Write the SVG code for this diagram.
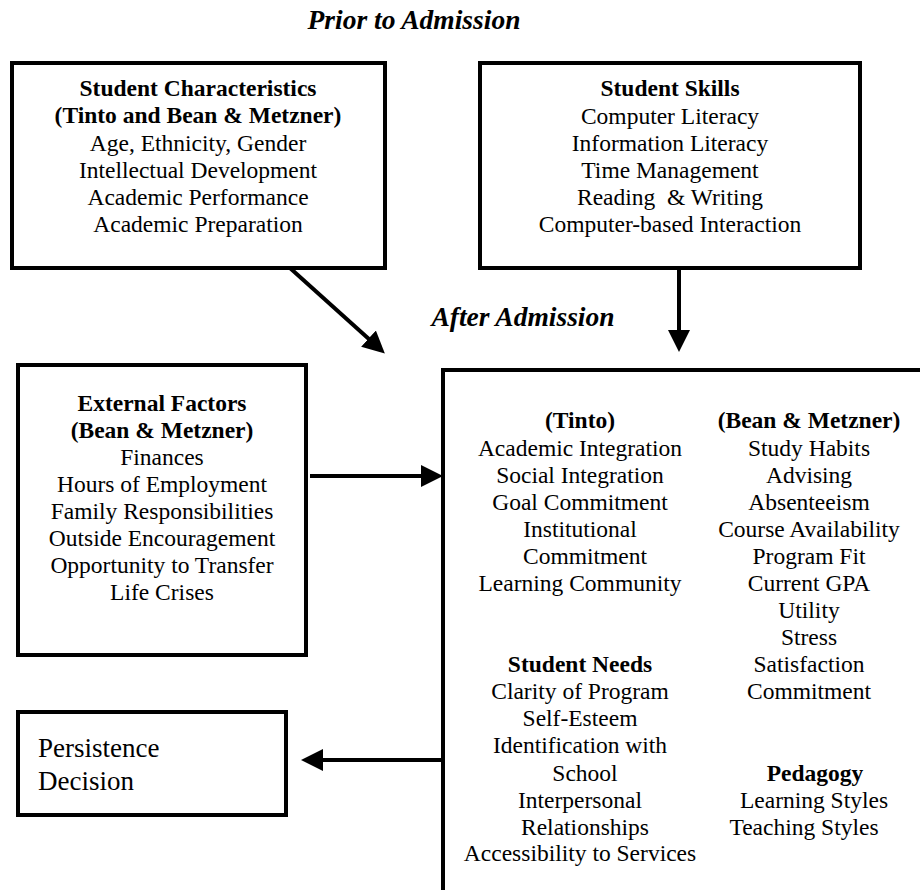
<svg xmlns="http://www.w3.org/2000/svg" width="920" height="890" viewBox="0 0 920 890">
<style>
.box{fill:#fff;stroke:#000;stroke-width:4}
text{font-family:"Liberation Serif","Times New Roman",serif;font-size:23.5px;fill:#000;text-anchor:middle}
.b{font-weight:bold}
.h{font-weight:bold;font-style:italic;font-size:27.5px}
.conn{stroke:#000;stroke-width:4;fill:none}
</style>
<defs>
<marker id="ah" viewBox="-2 -11 22 22" refX="0" refY="0" markerWidth="22" markerHeight="22" markerUnits="userSpaceOnUse" orient="auto">
<path d="M-2,-11 L20,0 L-2,11 z" fill="#000"/>
</marker>
</defs>
<text class="h" x="414" y="29">Prior to Admission</text>
<text class="h" x="523" y="326">After Admission</text>

<g id="student-characteristics">
<rect class="box" x="12" y="63" width="373" height="205"/>
<text class="b" x="198" y="96">Student Characteristics</text>
<text class="b" x="198" y="123">(Tinto and Bean &amp; Metzner)</text>
<text x="198" y="151">Age, Ethnicity, Gender</text>
<text x="198" y="178">Intellectual Development</text>
<text x="198" y="205">Academic Performance</text>
<text x="198" y="232">Academic Preparation</text>
</g>

<g id="student-skills">
<rect class="box" x="480" y="63" width="380" height="205"/>
<text class="b" x="670" y="96">Student Skills</text>
<text x="670" y="124">Computer Literacy</text>
<text x="670" y="151">Information Literacy</text>
<text x="670" y="178">Time Management</text>
<text x="670" y="205" xml:space="preserve">Reading  &amp; Writing</text>
<text x="670" y="232">Computer-based Interaction</text>
</g>

<g id="external-factors">
<rect class="box" x="18" y="365" width="288" height="290"/>
<text class="b" x="162" y="411">External Factors</text>
<text class="b" x="162" y="438">(Bean &amp; Metzner)</text>
<text x="162" y="465">Finances</text>
<text x="162" y="492">Hours of Employment</text>
<text x="162" y="519">Family Responsibilities</text>
<text x="162" y="546">Outside Encouragement</text>
<text x="162" y="573">Opportunity to Transfer</text>
<text x="162" y="600">Life Crises</text>
</g>

<g id="after-admission-factors">
<rect class="box" x="443" y="370" width="500" height="540"/>
<text class="b" x="580" y="428">(Tinto)</text>
<text x="580" y="456">Academic Integration</text>
<text x="580" y="483">Social Integration</text>
<text x="580" y="510">Goal Commitment</text>
<text x="580" y="537">Institutional</text>
<text x="585" y="564">Commitment</text>
<text x="580" y="591">Learning Community</text>
<text class="b" x="580" y="672">Student Needs</text>
<text x="580" y="699">Clarity of Program</text>
<text x="580" y="726">Self-Esteem</text>
<text x="580" y="753">Identification with</text>
<text x="585" y="781">School</text>
<text x="580" y="808">Interpersonal</text>
<text x="585" y="835">Relationships</text>
<text x="580" y="861">Accessibility to Services</text>
<text class="b" x="809" y="428">(Bean &amp; Metzner)</text>
<text x="809" y="456">Study Habits</text>
<text x="809" y="483">Advising</text>
<text x="809" y="510">Absenteeism</text>
<text x="809" y="537">Course Availability</text>
<text x="809" y="564">Program Fit</text>
<text x="809" y="591">Current GPA</text>
<text x="809" y="618">Utility</text>
<text x="809" y="645">Stress</text>
<text x="809" y="672">Satisfaction</text>
<text x="809" y="699">Commitment</text>
<text class="b" x="815" y="781">Pedagogy</text>
<text x="814" y="808">Learning Styles</text>
<text x="804" y="835">Teaching Styles</text>
</g>

<g id="persistence-decision">
<rect class="box" x="18" y="712" width="268" height="103"/>
<text x="38" y="757" style="text-anchor:start;font-size:27px">Persistence</text>
<text x="38" y="790" style="text-anchor:start;font-size:27px">Decision</text>
</g>

<g id="connectors">
<line class="conn" x1="290" y1="268" x2="370" y2="340" marker-end="url(#ah)"/>
<line class="conn" x1="679" y1="268" x2="679" y2="332" marker-end="url(#ah)"/>
<line class="conn" x1="310" y1="476" x2="423" y2="476" marker-end="url(#ah)"/>
<line class="conn" x1="443" y1="760" x2="321" y2="760" marker-end="url(#ah)"/>
</g>
</svg>
